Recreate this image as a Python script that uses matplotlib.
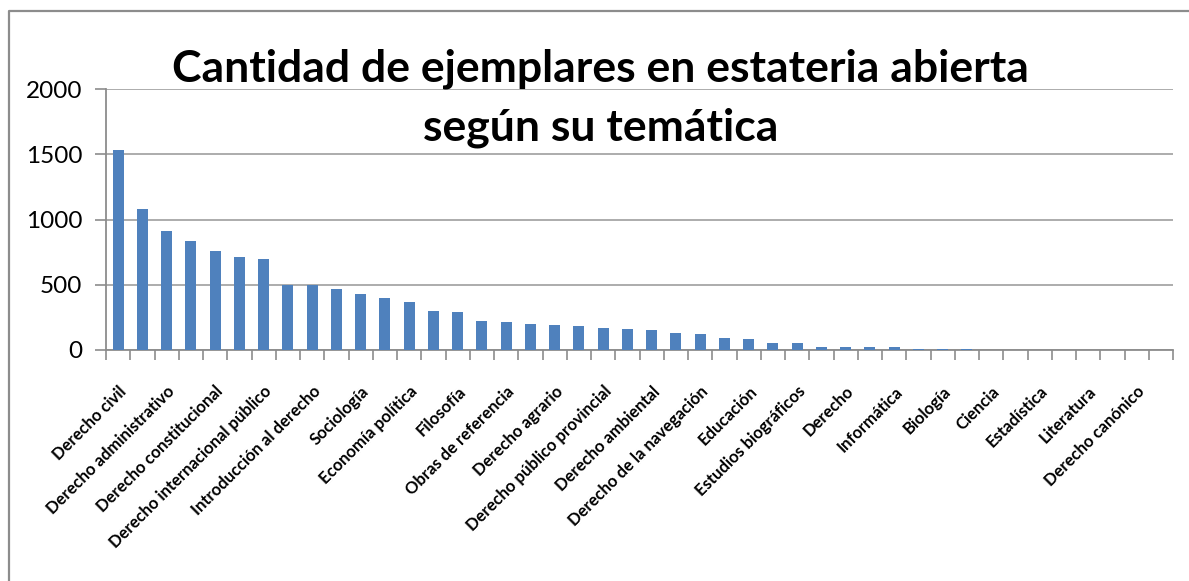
import numpy as np
import matplotlib
matplotlib.use("Agg")
import matplotlib.pyplot as plt
from matplotlib.lines import Line2D

plt.rcParams['font.family'] = ['Lato', 'DejaVu Sans']

# category labels (Excel shows every second one)
labels = ["Derecho civil", "Derecho administrativo", "Derecho constitucional",
          "Derecho internacional público", "Introducción al derecho", "Sociología",
          "Economía política", "Filosofía", "Obras de referencia", "Derecho agrario",
          "Derecho público provincial", "Derecho ambiental", "Derecho de la navegación",
          "Educación", "Estudios biográficos", "Derecho", "Informática", "Biología",
          "Ciencia", "Estadística", "Literatura", "Derecho canónico"]

values = [1530, 1080, 915, 835, 755, 715, 695, 500, 495, 470,
          430, 400, 365, 300, 295, 225, 212, 196, 194, 183,
          172, 164, 154, 134, 123, 90, 82, 51, 51, 20,
          20, 20, 20, 10, 10, 10, 0, 0, 0, 0,
          0, 0, 0, 0]

yticks = [0, 500, 1000, 1500, 2000]

W, H = 1189, 581
fig = plt.figure(figsize=(W / 100, H / 100), dpi=100)
ax = fig.add_axes([106 / W, 1 - 350 / H, (1173 - 106) / W, (350 - 89) / H])

x = np.arange(len(values))
ax.bar(x, values, width=0.45, color='#4F81BD', zorder=3)

ax.set_xlim(-0.5, len(values) - 0.5)
ax.set_ylim(0, 2000)
ax.set_yticks(yticks)
ax.set_yticklabels([str(v) for v in yticks], fontsize=17.5)
ax.yaxis.grid(True, color='#a6a6a6', linewidth=1.3, zorder=0)

# tick marks between categories, labels on every second bar
ax.set_xticks(np.arange(len(values) + 1) - 0.5)
ax.set_xticklabels([])
ax.set_xticks(x[::2], minor=True)
ax.set_xticklabels(labels, minor=True, rotation=45, ha='right', va='top',
                   rotation_mode='anchor', fontsize=12, fontweight='bold')
ax.tick_params(axis='x', which='minor', length=0, pad=24)
ax.tick_params(axis='x', which='major', length=7, color='#8c8c8c', width=1.2)
ax.tick_params(axis='y', length=8, color='#8c8c8c', width=1.2, pad=9)

for s in ['top', 'right']:
    ax.spines[s].set_visible(False)
for s in ['left', 'bottom']:
    ax.spines[s].set_color('#8c8c8c')
    ax.spines[s].set_linewidth(1.3)

fig.text(0.505, 1 - 98 / H, "Cantidad de ejemplares en estateria abierta\nsegún su temática",
         ha='center', va='center', fontsize=32, fontweight='bold', linespacing=1.55)

# outer chart border (only left and top are inside the picture)
fig.add_artist(Line2D([9 / W, 9 / W, 1.0], [0.0, 1 - 11 / H, 1 - 11 / H],
                      transform=fig.transFigure, color='#8c8c8c', linewidth=1.6))

fig.savefig('out.png', dpi=100)
